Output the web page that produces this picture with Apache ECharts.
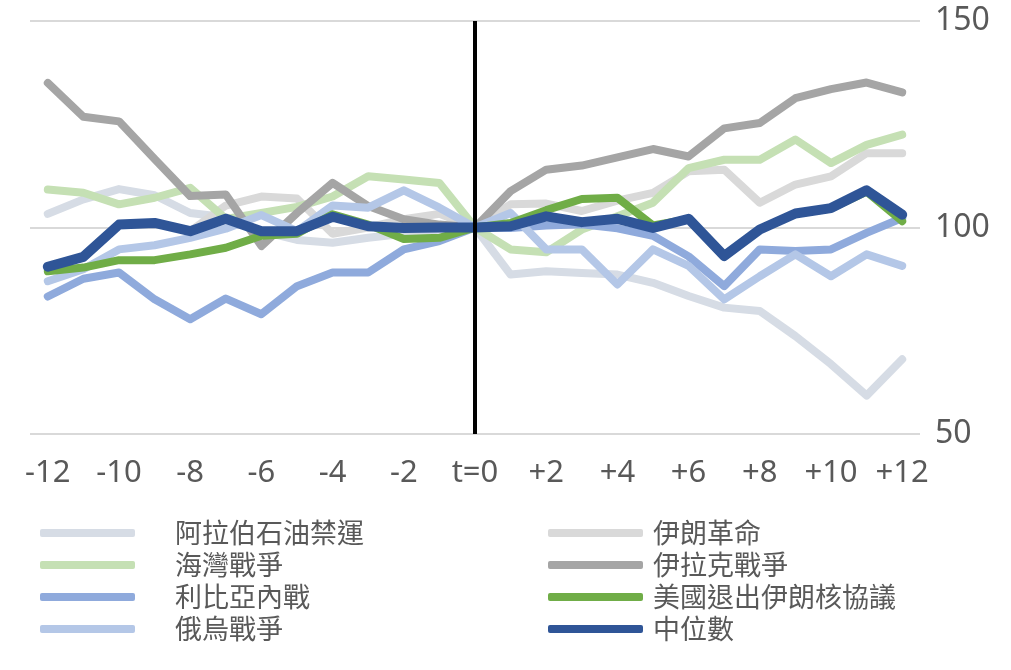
<!DOCTYPE html>
<html>
<head>
<meta charset="utf-8">
<script src="https://cdn.jsdelivr.net/npm/echarts@6/dist/echarts.min.js"></script>
<style>
html,body{margin:0;padding:0;background:#fff;}
#c{width:1011px;height:670px;}
</style>
</head>
<body>
<div id="c"></div>
<script>
const categories = ['-12','-11','-10','-9','-8','-7','-6','-5','-4','-3','-2','-1','t=0','+1','+2','+3','+4','+5','+6','+7','+8','+9','+10','+11','+12'];
const yTicks = [50, 100, 150];

const arabEmbargo    = [103.3,106.8,109.3,107.8,103.5,102.5,99.1,97,96.3,97.5,98.5,99.5,100,88.6,89.4,89,88.6,86.6,83.4,80.6,79.8,73.7,66.9,59.3,68.1];
const iranRevolution = [90.5,92.9,100.7,101.1,99.1,105.3,107.5,107,98.5,100,102,103.3,100,105.6,105.8,104,106.5,108.4,113.6,114,106,110.4,112.4,118,118];
const gulfWar        = [109.2,108.4,105.6,107.2,109.6,102.1,103.5,105,107.5,112.4,111.6,110.8,100,94.7,94,99.5,102.7,106,114.4,116.4,116.4,121.3,115.6,120,122.5];
const iraqWar        = [135,126.8,125.7,116.6,107.6,108,95.5,103.5,110.8,105.2,102,100.7,100,108.8,114,115,117,119,117.2,124,125.3,131.3,133.5,135.1,132.7];
const libyaWar       = [83.3,87.6,89.1,82.6,77.8,82.8,79,85.8,89.1,89.1,94.7,96.7,100,99.9,100.5,100.8,99.8,98,93,85.8,94.7,94.3,94.7,98.7,102.3];
const usExitIran     = [89.4,90.3,92.1,92.1,93.5,95.1,98,98.5,103.2,100.7,97.2,97.5,100,101.1,104.2,106.9,107.2,100.5,102,93,99.5,103.3,104.6,108.7,101.5];
const russiaUkraine  = [87,89.9,94.7,95.7,97.5,99.7,103,99.1,105.3,104.8,109,104.8,100,103.5,94.7,94.7,86.2,94.7,90.7,82.6,88.2,93.5,88.2,93.5,90.7];
const medianVals     = [90.5,92.9,100.7,101.1,99.1,102.1,99.1,99.1,102.6,100.3,99.9,100,100,100.3,102.7,101.3,102.1,99.9,102.1,93.1,99.5,103.4,104.7,109,103.1];

const chart = echarts.init(document.getElementById('c'), null, {renderer:'canvas'});

function mk(name, data, color, width, z){
  return {
    name: name, type:'line', data: data, showSymbol:false, symbol:'none',
    lineStyle:{color:color, width:width, cap:'round', join:'round'},
    itemStyle:{color:color}, z:z, animation:false, silent:true
  };
}

const series = [
  mk('阿拉伯石油禁運', arabEmbargo, '#d6dce5', 8, 2),
  mk('伊朗革命', iranRevolution, '#d9d9d9', 8, 2),
  mk('海灣戰爭', gulfWar, '#c5e0b4', 8, 2),
  mk('伊拉克戰爭', iraqWar, '#a5a5a5', 8, 2),
  mk('利比亞內戰', libyaWar, '#8faadc', 8, 2),
  mk('俄烏戰爭', russiaUkraine, '#b4c7e7', 8, 2),
  mk('美國退出伊朗核協議', usExitIran, '#70ad47', 8, 2),
  mk('中位數', medianVals, '#2f5597', 10, 3)
];
series[7].markLine = {
  silent:true, symbol:['none','none'], animation:false,
  label:{show:false},
  lineStyle:{color:'#000', width:4, type:'solid'},
  data:[{xAxis:'t=0'}]
};

const legendText = {fontSize:27, color:'#595959', fontFamily:'"Noto Sans CJK TC", "Noto Sans", sans-serif', lineHeight:32};

chart.setOption({
  backgroundColor:'#fff',
  animation:false,
  grid:{left:30, right:91, top:21, bottom:236, containLabel:false},
  xAxis:{
    type:'category', data:categories, boundaryGap:true,
    axisLine:{show:false}, axisTick:{show:false},
    axisLabel:{interval:1, margin:24, fontSize:31, color:'#595959', fontFamily:'"Noto Sans", sans-serif'},
    splitLine:{show:false}
  },
  yAxis:{
    type:'value', position:'right', min:yTicks[0], max:yTicks[2], interval:50,
    axisLine:{show:false}, axisTick:{show:false},
    axisLabel:{margin:15, fontSize:32, color:'#595959', fontFamily:'"Noto Sans", sans-serif'},
    splitLine:{show:true, lineStyle:{color:'#d9d9d9', width:2}}
  },
  legend:[
    {
      orient:'vertical', left:40, top:517, padding:0, itemWidth:95, itemHeight:8, itemGap:0,
      icon:'roundRect', selectedMode:false,
      data:['阿拉伯石油禁運','海灣戰爭','利比亞內戰','俄烏戰爭'],
      textStyle:Object.assign({padding:[0,0,0,35]}, legendText)
    },
    {
      orient:'vertical', left:548, top:517, padding:0, itemWidth:95, itemHeight:8, itemGap:0,
      icon:'roundRect', selectedMode:false,
      data:['伊朗革命','伊拉克戰爭','美國退出伊朗核協議','中位數'],
      textStyle:Object.assign({padding:[0,0,0,5]}, legendText)
    }
  ],
  series:series
});
</script>
</body>
</html>
